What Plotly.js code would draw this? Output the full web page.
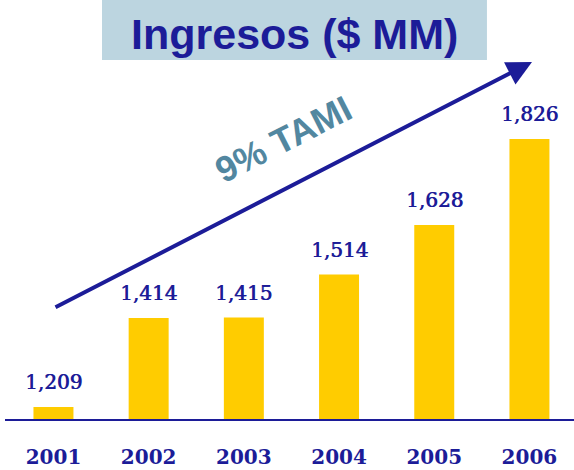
<!DOCTYPE html>
<html>
<head>
<meta charset="utf-8">
<script src="https://cdn.plot.ly/plotly-3.0.1.min.js"></script>
<style>html,body{margin:0;padding:0;background:#fff;}#chart{width:574px;height:470px;}</style>
</head>
<body>
<div id="chart"></div>
<script>
const years = ['2001', '2002', '2003', '2004', '2005', '2006'];
const ingresos = [1209, 1414, 1415, 1514, 1628, 1826];
const chartTitle = 'Ingresos ($ MM)';
const growthLabel = '9% TAMI';

const navy = '#1c1c98';
const gold = '#ffcc00';

const fmt = v => v.toLocaleString('en-US');

// category axis: annotation x given as category index
const valueAnnotations = years.map((y, i) => ({
  x: i, y: ingresos[i], xref: 'x', yref: 'y',
  text: fmt(ingresos[i]), showarrow: false,
  xanchor: 'center', yanchor: 'bottom', yshift: 11,
  font: {family: 'DejaVu Serif', size: 20, color: navy, shadow: '0.6px 0 0 ' + navy}
}));

const data = [{
  type: 'bar',
  x: years,
  y: ingresos,
  marker: {color: gold, line: {width: 0}},
  hoverinfo: 'skip'
}];

const layout = {
  width: 574, height: 470,
  margin: {l: 5, r: 0, t: 0, b: 51},
  paper_bgcolor: '#ffffff', plot_bgcolor: '#ffffff',
  showlegend: false,
  bargap: 0.58,
  xaxis: {
    type: 'category',
    range: [-0.509, 5.468],
    showline: true, linecolor: navy, linewidth: 2,
    showgrid: false, zeroline: false, ticks: '',
    ticklabelstandoff: 19,
    tickfont: {family: 'DejaVu Serif', size: 20, color: navy, weight: 'bold'}
  },
  yaxis: {
    range: [1181.4, 2146],
    visible: false, showgrid: false, zeroline: false
  },
  shapes: [{
    type: 'rect', xref: 'paper', yref: 'paper',
    x0: 0.1705, x1: 0.847, y0: 0.857, y1: 1.0,
    fillcolor: '#bcd5e0', line: {width: 0}, layer: 'below'
  }],
  annotations: [
    {
      xref: 'paper', yref: 'paper', x: 0.508, y: 0.919,
      text: '<b>' + chartTitle + '</b>', showarrow: false,
      xanchor: 'center', yanchor: 'middle',
      font: {family: 'Liberation Sans, Arial, sans-serif', size: 43, color: navy}
    },
    {
      xref: 'paper', yref: 'paper', x: 0.9262, y: 0.852,
      text: '', showarrow: true,
      ax: -478, ay: 246,
      arrowhead: 2, arrowsize: 1.25, arrowwidth: 4, arrowcolor: navy
    },
    {
      xref: 'paper', yref: 'paper', x: 0.4886, y: 0.6659,
      text: '<b>' + growthLabel + '</b>', showarrow: false,
      textangle: -27,
      xanchor: 'center', yanchor: 'middle',
      font: {family: 'Liberation Sans, Arial, sans-serif', size: 36, color: '#5287a0'}
    }
  ].concat(valueAnnotations)
};

Plotly.newPlot('chart', data, layout, {staticPlot: true, displayModeBar: false});
</script>
</body>
</html>
